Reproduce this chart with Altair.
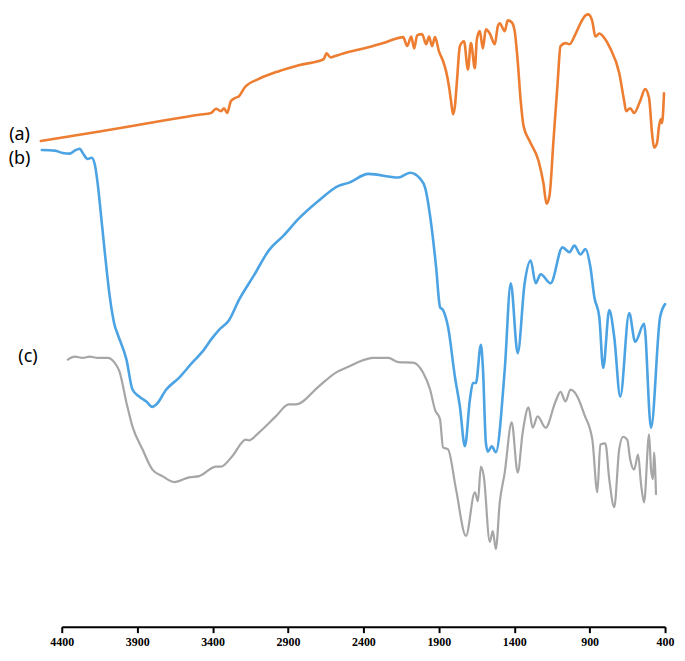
import altair as alt
import pandas as pd

# Wavenumbers (cm-1) and relative transmittance
a_wn = [4539, 4149, 3753, 3489, 3410, 3377, 3344, 3324, 3304, 3278, 3252, 3225, 3186, 3093, 2961, 2829, 2664, 2644,
        2618, 2592, 2499, 2367, 2268, 2202, 2136, 2110, 2083, 2063, 2044, 2011, 1984, 1965, 1945,
        1925, 1899, 1872, 1852, 1833, 1819, 1806, 1793, 1780, 1760, 1733, 1707, 1687, 1661, 1648,
        1628, 1608, 1588, 1562, 1529, 1509, 1496, 1463, 1443, 1417, 1397, 1377, 1357, 1338, 1298,
        1239, 1206, 1186, 1166, 1140, 1113, 1093, 1060, 1034, 994, 955, 928, 909, 882, 862,
        836, 810, 763, 704, 671, 658, 631, 605, 565, 532, 506, 486, 473, 453, 440,
        427, 420, 407]
a_val = [81.3, 82.9, 84.6, 85.7, 86.0, 86.7, 86.3, 86.8, 86.0, 88.0, 88.5, 88.8, 90.3, 91.7, 93.0, 94.0, 95.0, 96.0,
         95.3, 95.5, 96.2, 97.0, 97.7, 98.3, 98.7, 97.2, 98.8, 96.8, 99.0, 99.2, 97.5, 98.8, 97.2,
         98.7, 96.3, 94.7, 93.0, 90.5, 88.0, 85.8, 87.2, 91.3, 97.2, 98.0, 93.3, 97.7, 93.5, 98.3,
         99.7, 96.8, 100.0, 99.3, 97.5, 100.5, 101.0, 99.7, 101.5, 101.2, 99.7, 94.7, 88.0, 83.8, 81.3,
         78.0, 74.2, 70.8, 72.2, 81.3, 90.8, 97.2, 97.7, 97.5, 99.2, 101.3, 102.3, 102.5, 101.3, 98.8,
         99.3, 98.8, 96.8, 92.7, 88.0, 86.3, 86.8, 86.0, 88.0, 90.0, 88.5, 82.5, 80.2, 81.0, 83.8,
         85.0, 84.3, 89.3]

b_wn = [4532, 4446, 4393, 4347, 4314, 4281, 4261, 4228, 4202, 4182, 4162, 4143, 4116, 4083, 4050,
        4030, 3971, 3931, 3885, 3839, 3799, 3773, 3707, 3621, 3535, 3469, 3403, 3357, 3291, 3225,
        3126, 3027, 2928, 2829, 2697, 2565, 2499, 2367, 2169, 2090, 2024, 1991, 1951, 1918, 1892,
        1872, 1839, 1793, 1760, 1727, 1694, 1674, 1654, 1621, 1608, 1588, 1575, 1549, 1522, 1463,
        1423, 1377, 1331, 1291, 1258, 1225, 1159, 1080, 1034, 1001, 961, 928, 895, 869, 836,
        810, 770, 737, 697, 638, 598, 539, 493, 433, 400]
b_val = [79.8, 79.7, 79.3, 79.2, 79.7, 80.0, 79.3, 78.3, 78.5, 77.5, 74.2, 69.7, 63.0, 55.5, 50.5,
         49.0, 44.7, 39.7, 38.5, 37.7, 36.8, 37.2, 39.7, 41.7, 44.2, 46.0, 48.3, 49.7, 51.3, 54.7,
         58.8, 63.0, 65.5, 68.3, 71.3, 73.8, 74.3, 75.8, 75.2, 76.0, 75.0, 73.5, 67.5, 60.2, 53.5,
         53.0, 50.2, 41.8, 36.8, 30.2, 38.0, 40.8, 40.8, 47.2, 43.5, 30.8, 29.3, 30.2, 29.2, 43.0,
         57.5, 45.8, 57.5, 61.3, 57.5, 59.0, 57.5, 63.5, 62.7, 63.8, 62.3, 63.2, 60.2, 55.2, 51.8,
         43.3, 53.0, 48.5, 38.5, 52.5, 47.7, 50.7, 33.3, 51.8, 54.0]

c_wn = [4360, 4314, 4261, 4215, 4162, 4096, 4050, 4017, 3971, 3931, 3865, 3799, 3733, 3654, 3555,
        3489, 3377, 3344, 3271, 3179, 3159, 3093, 2981, 2895, 2849, 2697, 2585, 2499, 2433, 2334,
        2235, 2169, 2070, 2004, 1958, 1925, 1892, 1872, 1839, 1786, 1720, 1661, 1641, 1621, 1602,
        1562, 1542, 1522, 1496, 1463, 1417, 1377, 1344, 1305, 1278, 1245, 1192, 1126, 1093, 1060,
        1027, 1001, 981, 935, 882, 849, 829, 796, 770, 737, 704, 678, 651, 631, 605,
        579, 559, 539, 506, 493, 480, 473, 460]
c_val = [44.7, 45.2, 45.0, 45.2, 45.0, 45.0, 44.2, 42.7, 37.5, 33.5, 29.7, 26.3, 25.2, 24.2, 25.0,
         25.2, 26.8, 26.8, 28.5, 31.3, 31.2, 32.5, 35.2, 37.2, 37.2, 40.2, 42.5, 43.5, 44.3, 45.0,
         45.0, 44.3, 44.2, 42.5, 39.7, 36.3, 34.7, 30.0, 29.7, 23.0, 15.2, 22.5, 21.0, 26.8, 25.2,
         14.2, 16.0, 13.0, 20.8, 25.8, 34.2, 25.8, 32.5, 36.7, 33.3, 35.2, 33.3, 37.7, 39.3, 37.7,
         39.7, 39.3, 38.5, 35.5, 31.3, 22.5, 30.5, 30.7, 24.7, 20.0, 29.7, 31.8, 31.3, 28.0, 26.3,
         28.8, 23.8, 20.8, 32.2, 26.3, 24.7, 29.2, 22.2]

tick_values = [4400, 3900, 3400, 2900, 2400, 1900, 1400, 900, 400]

series_names = ["(a)", "(b)", "(c)"]
series_colors = ["#ED7D31", "#4BA3E3", "#A6A6A6"]
series_widths = [2.6, 2.6, 2.2]
label_wn = [4680, 4680, 4624]
label_val = [82.3, 78.3, 45.2]

x_scale = alt.Scale(domain=[4400, 400], nice=False, zero=False)
y_scale = alt.Scale(domain=[0, 103], nice=False, zero=False)
x_axis = alt.Axis(values=tick_values, title=None, format="d", grid=False,
                  domainColor="black", domainWidth=2, tickColor="black", tickWidth=2,
                  tickSize=6, labelFont="Liberation Serif", labelFontWeight="bold",
                  labelFontSize=12, labelColor="black", labelPadding=4,
                  labelFlush=False)

layers = []
for idx, (name, wns, vals) in enumerate(zip(series_names, [a_wn, b_wn, c_wn], [a_val, b_val, c_val])):
    d = pd.DataFrame({"wn": wns, "val": vals, "order": list(range(len(wns)))})
    layers.append(
        alt.Chart(d).mark_line(
            strokeWidth=series_widths[idx], strokeJoin="round", strokeCap="round",
            interpolate="monotone", color=series_colors[idx],
        ).encode(
            x=alt.X("wn:Q", scale=x_scale, axis=x_axis),
            y=alt.Y("val:Q", scale=y_scale, axis=None),
            order="order:Q",
        )
    )

labels = pd.DataFrame({"series": series_names, "wn": label_wn, "val": label_val})
text = alt.Chart(labels).mark_text(font="Noto Sans", fontSize=18, color="black", align="center",
                                   baseline="middle").encode(
    x=alt.X("wn:Q", scale=x_scale, axis=x_axis),
    y=alt.Y("val:Q", scale=y_scale, axis=None),
    text="series:N",
)

chart = alt.layer(*layers, text).properties(
    width=606, height=618,
    background="white",
    autosize=alt.AutoSizeParams(type="none"),
    padding={"left": 54, "top": 2, "right": 12, "bottom": 25},
).configure_view(stroke=None)

chart.save("out.html", embed_options={"renderer": "svg", "actions": False})
